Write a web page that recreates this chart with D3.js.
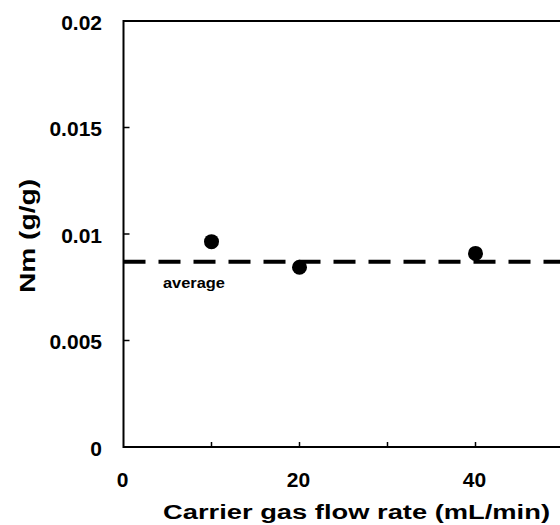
<!DOCTYPE html>
<html>
<head>
<meta charset="utf-8">
<script src="https://cdn.jsdelivr.net/npm/d3@7"></script>
<style>
  body { margin: 0; background: #fff; }
  text { font-family: "Liberation Sans", Arial, sans-serif; font-weight: bold; fill: #000; }
</style>
</head>
<body>
<svg id="chart" width="560" height="525"></svg>
<script>
// Data
var flowRates = [10, 20, 40];
var nmValues = [0.00964, 0.00844, 0.00909];
var averageValue = 0.0087;
var xTickLabels = [0, 20, 40];
var xMinorTicks = [10, 20, 30, 40];
var yTickLabels = [0, 0.005, 0.01, 0.015, 0.02];

var svg = d3.select('#chart');

var x = d3.scaleLinear().domain([0, 50]).range([123.5, 563.5]);
var y = d3.scaleLinear().domain([0, 0.02]).range([447, 21]);

// Frame (right side falls outside the picture)
svg.append('rect')
    .attr('x', x(0)).attr('y', y(0.02))
    .attr('width', x(50) - x(0)).attr('height', y(0) - y(0.02))
    .attr('fill', 'none').attr('stroke', '#000').attr('stroke-width', 2);

// Inward ticks
svg.selectAll('.xt').data(xMinorTicks).enter().append('line')
    .attr('x1', function(d){ return x(d); }).attr('x2', function(d){ return x(d); })
    .attr('y1', y(0)).attr('y2', y(0) - 5)
    .attr('stroke', '#000').attr('stroke-width', 1.5);

svg.selectAll('.yt').data([0.005, 0.01, 0.015]).enter().append('line')
    .attr('x1', x(0)).attr('x2', x(0) + 6)
    .attr('y1', function(d){ return y(d); }).attr('y2', function(d){ return y(d); })
    .attr('stroke', '#000').attr('stroke-width', 1.5);

// Tick labels
svg.selectAll('.xl').data(xTickLabels).enter().append('text')
    .attr('x', function(d){ return x(d) - 1; })
    .attr('y', 487)
    .attr('text-anchor', 'middle')
    .style('font-size', '21px')
    .text(function(d){ return d; });

svg.selectAll('.yl').data(yTickLabels).enter().append('text')
    .attr('x', 102)
    .attr('y', function(d){ return y(d) + 8.5; })
    .attr('text-anchor', 'end')
    .style('font-size', '21px')
    .text(function(d){ return d; });

// Average line
svg.append('line')
    .attr('x1', x(0)).attr('x2', 560)
    .attr('y1', y(averageValue)).attr('y2', y(averageValue))
    .attr('stroke', '#000').attr('stroke-width', 4)
    .attr('stroke-dasharray', '22,13');

svg.append('text')
    .attr('x', 163).attr('y', 288)
    .attr('textLength', 62).attr('lengthAdjust', 'spacingAndGlyphs')
    .style('font-size', '14px')
    .text('average');

// Points
svg.selectAll('circle').data(flowRates).enter().append('circle')
    .attr('cx', function(d){ return x(d); })
    .attr('cy', function(d, i){ return y(nmValues[i]); })
    .attr('r', 7.5)
    .attr('fill', '#000');

// Axis titles
svg.append('text')
    .attr('x', 163).attr('y', 519)
    .attr('textLength', 387).attr('lengthAdjust', 'spacingAndGlyphs')
    .style('font-size', '20px')
    .text('Carrier gas flow rate (mL/min)');

svg.append('text')
    .attr('transform', 'translate(35,293) rotate(-90)')
    .attr('textLength', 114).attr('lengthAdjust', 'spacingAndGlyphs')
    .style('font-size', '22px')
    .text('Nm (g/g)');
</script>
</body>
</html>
